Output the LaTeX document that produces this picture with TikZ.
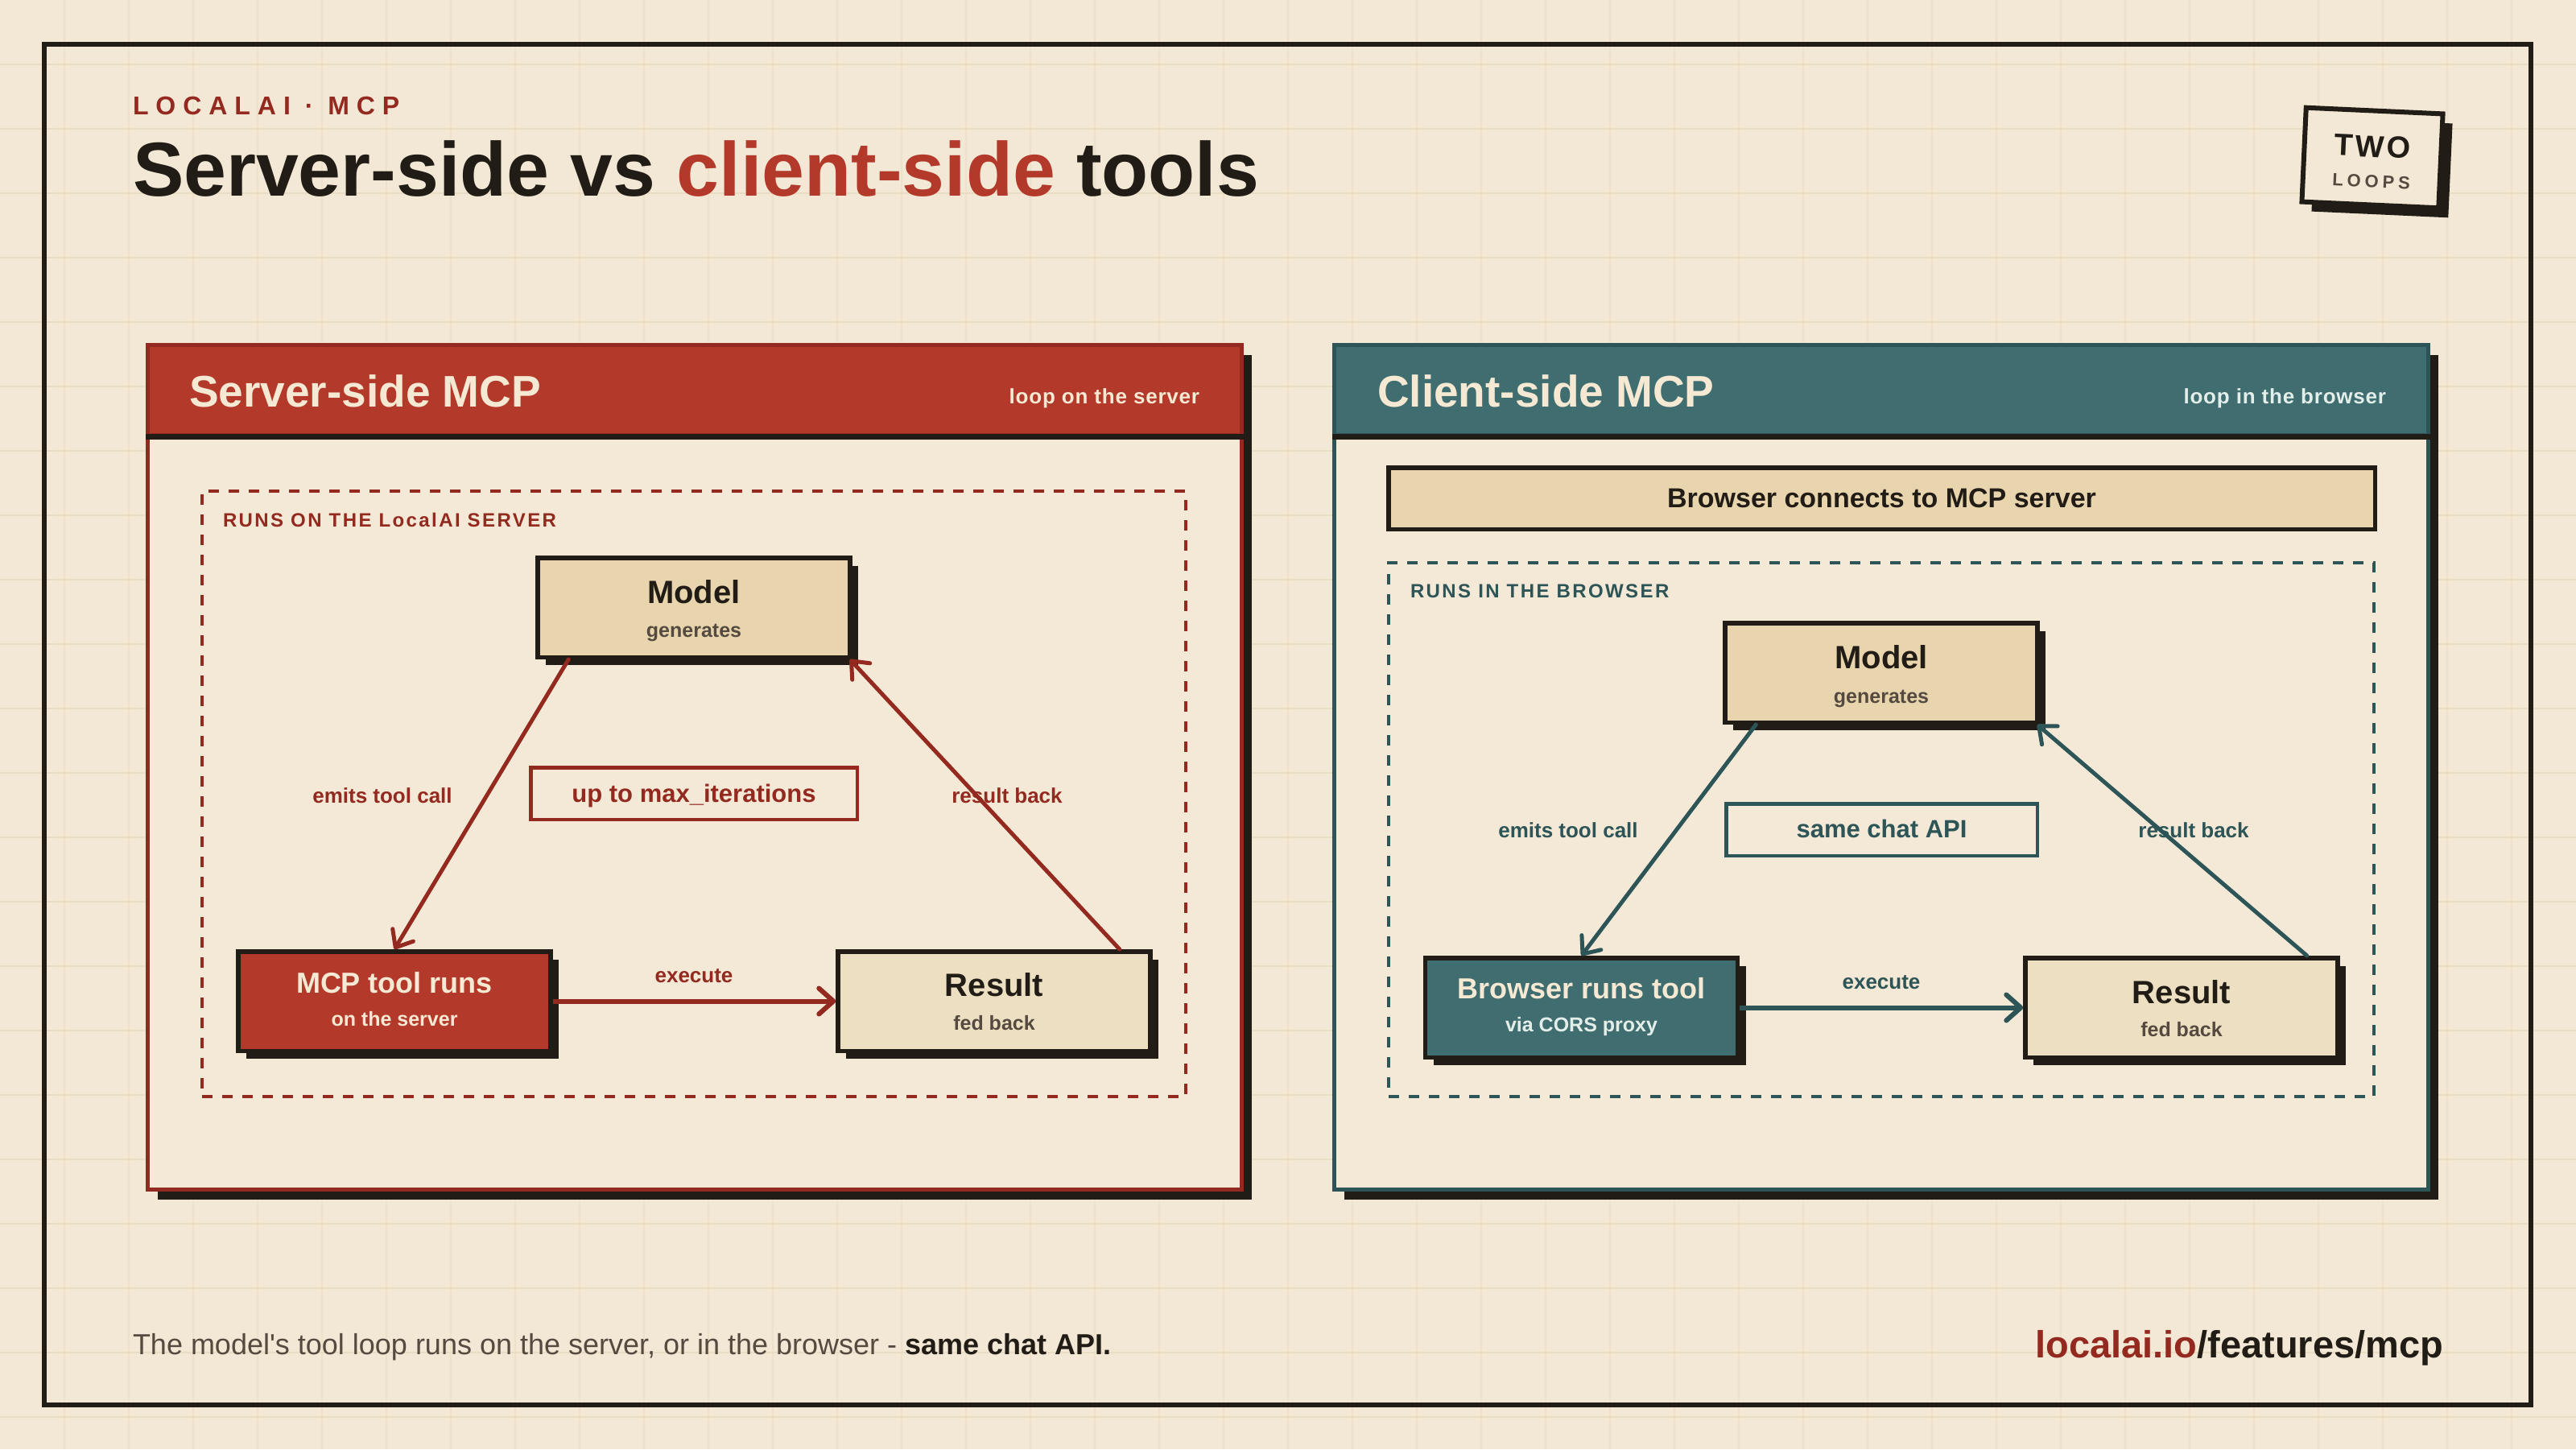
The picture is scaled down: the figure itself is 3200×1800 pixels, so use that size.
\documentclass[tikz,border=0pt]{standalone}
\usepackage{fontspec}
\setmainfont{Liberation Sans}
\usetikzlibrary{arrows.meta,calc,shadows}

\definecolor{bg}{HTML}{F2E8D5}
\definecolor{gridc}{HTML}{EADCC2}
\definecolor{gridv}{HTML}{EDE1CA}
\definecolor{ink}{HTML}{211C15}
\definecolor{redfill}{HTML}{B3392B}
\definecolor{redline}{HTML}{93291F}
\definecolor{tealfill}{HTML}{3F6D70}
\definecolor{tealline}{HTML}{2D5457}
\definecolor{tanfill}{HTML}{E8D5AE}
\definecolor{resfill}{HTML}{EDDFC1}
\definecolor{creamtxt}{HTML}{F6E9D3}
\definecolor{paletxt}{HTML}{E4EEE9}
\definecolor{graytxt}{HTML}{554A3F}
\definecolor{bodyfill}{HTML}{F3E9D6}

\newcommand\fsz[1]{\fontsize{#1}{#1}\selectfont}
\newcommand\lsp[1]{\addfontfeatures{LetterSpace=#1}}

\begin{document}
\begin{tikzpicture}[x=1pt,y=-1pt,
  txt/.style={inner sep=0pt, outer sep=0pt},
  shadowed/.style={drop shadow={shadow xshift=#1, shadow yshift=-#1, opacity=1, fill=ink}},
  nodebox/.style={rectangle, draw=ink, line width=5.5pt, minimum width=388pt,
    minimum height=123.5pt, inner sep=0pt, shadowed=10pt},
  panelbody/.style={rectangle, draw=#1, line width=5pt, fill=bodyfill,
    minimum width=1359pt, minimum height=1049pt, inner sep=0pt, shadowed=12pt},
  panelhead/.style={rectangle, draw=#1, line width=5pt,
    minimum width=1359pt, minimum height=111.5pt, inner sep=0pt},
  region/.style={rectangle, draw=#1, line width=4pt, dash pattern=on 13pt off 12pt, inner sep=0pt},
  midbox/.style={rectangle, draw=#1, line width=4.5pt, fill=bodyfill, minimum height=64.5pt, inner sep=0pt},
  boxtitle/.style={txt, anchor=base, font=\bfseries\fsz{40}, text=ink},
  boxsub/.style={txt, anchor=base, font=\bfseries\fsz{25}, text=graytxt},
  cboxtitle/.style={txt, anchor=base, font=\bfseries\fsz{36}, text=creamtxt},
  cboxsub/.style={txt, anchor=base, font=\bfseries\fsz{25}, text=creamtxt},
  edgelabel/.style={txt, anchor=base, font=\bfseries\fsz{26}, text=#1},
  flow/.style={draw=#1, line width=5pt, line cap=round,
    -{Straight Barb[length=18pt, width=30pt, round]}},
  execflow/.style={draw=#1, line width=6pt,
    -{Straight Barb[length=18pt, width=32pt, round]}},
]
\useasboundingbox (0,0) rectangle (3200,1800);
\fill[bg] (0,0) rectangle (3200,1800);

% grid
\foreach \gx in {80,160,...,3120} {\draw[gridv, line width=2pt] (\gx,0) -- (\gx,1800);}
\foreach \gy in {80,160,...,1760} {\draw[gridc, line width=2.5pt] (0,\gy) -- (3200,\gy);}

% outer frame
\draw[ink, line width=6pt] (55,55) rectangle (3144,1745);

% heading
\node[txt, anchor=base west, font=\bfseries\fsz{32}\lsp{28}, text=redline] (kicker) at (165,142) {LOCALAI · MCP};
\node[txt, anchor=base west, font=\bfseries\fsz{95}, text=ink] (title) at (165,243)
  {Server-side vs \textcolor{redfill}{client-side} tools};

% badge
\begin{scope}[shift={(2947,196)}, rotate=-2.6, transform shape]
  \node[rectangle, draw=ink, line width=6pt, fill=bg, minimum width=170pt, minimum height=117pt,
    inner sep=0pt, shadowed=12pt] (badge) at (0,0) {};
  \node[txt, anchor=base, font=\bfseries\fsz{38}\lsp{8}, text=ink] (badgetop) at (0,-1) {TWO};
  \node[txt, anchor=base, font=\bfseries\fsz{22}\lsp{22}, text=graytxt] (badgebot) at (0,37) {LOOPS};
\end{scope}

% ================= left panel =================
\node[panelbody=redline] (lpanel) at (863,953) {};
\node[panelhead=redline, fill=redfill] (lhead) at (863,484.25) {};
\draw[ink, line width=7pt] (lhead.south west) -- (lhead.south east);
\node[txt, anchor=base west, font=\bfseries\fsz{55}, text=creamtxt] (lheadT) at (235,505) {Server-side MCP};
\node[txt, anchor=base east, font=\bfseries\fsz{26}\lsp{3}, text=creamtxt] (lheadS) at (1490,501) {loop on the server};

\node[region=redline, minimum width=1222pt, minimum height=752pt] (lregion) at (862,986) {};
\node[txt, anchor=base west, font=\bfseries\fsz{24}\lsp{10}, text=redline] (lregionT) at (277,654) {RUNS ON THE LocalAI SERVER};

\node[nodebox, fill=tanfill] (lmodel) at (862,754.5) {};
\node[boxtitle] (lmodelT) at ($(lmodel.center)+(0,-5)$) {Model};
\node[boxsub] (lmodelS) at ($(lmodel.center)+(0,37)$) {generates};

\node[nodebox, fill=redfill] (lmcp) at (490,1243.5) {};
\node[cboxtitle] (lmcpT) at ($(lmcp.center)+(0,-10)$) {MCP tool runs};
\node[cboxsub] (lmcpS) at ($(lmcp.center)+(0,31)$) {on the server};

\node[nodebox, fill=resfill] (lres) at (1235,1243.5) {};
\node[boxtitle] (lresT) at ($(lres.center)+(0,-6)$) {Result};
\node[boxsub] (lresS) at ($(lres.center)+(0,36)$) {fed back};

\node[midbox=redline, minimum width=405.5pt] (lmax) at (862,985.5) {};
\node[txt, anchor=base, font=\bfseries\fsz{31}, text=redline] (lmaxT) at ($(lmax.center)+(0,10.5)$) {up to max\_iterations};

\node[edgelabel=redline] (lemit) at (475,997) {emits tool call};
\node[edgelabel=redline] (lback) at (1251,997) {result back};
\node[edgelabel=redline] (lexec) at (862,1220) {execute};

\draw[flow=redline] ([xshift=41pt]lmodel.south west) -- (lmcp.north);
\draw[flow=redline] ([xshift=-41pt]lres.north east) -- ([xshift=-3pt]lmodel.south east);
\draw[execflow=redline] (lmcp.east) -- (lres.west);

% ================= right panel =================
\node[panelbody=tealline] (rpanel) at (2337,953) {};
\node[panelhead=tealline, fill=tealfill] (rhead) at (2337,484.25) {};
\draw[ink, line width=7pt] (rhead.south west) -- (rhead.south east);
\node[txt, anchor=base west, font=\bfseries\fsz{55}, text=creamtxt] (rheadT) at (1711,505) {Client-side MCP};
\node[txt, anchor=base east, font=\bfseries\fsz{26}\lsp{3}, text=paletxt] (rheadS) at (2964,501) {loop in the browser};

\node[rectangle, draw=ink, line width=5.5pt, fill=tanfill, minimum width=1225.5pt, minimum height=76.5pt, inner sep=0pt] (rconn) at (2337.5,619) {};
\node[txt, anchor=base, font=\bfseries\fsz{34}, text=ink] (rconnT) at ($(rconn.center)+(0,11)$) {Browser connects to MCP server};

\node[region=tealline, minimum width=1224pt, minimum height=663pt] (rregion) at (2337,1030.5) {};
\node[txt, anchor=base west, font=\bfseries\fsz{24}\lsp{10}, text=tealline] (rregionT) at (1752,742) {RUNS IN THE BROWSER};

\node[nodebox, fill=tanfill] (rmodel) at (2337,835.5) {};
\node[boxtitle] (rmodelT) at ($(rmodel.center)+(0,-5)$) {Model};
\node[boxsub] (rmodelS) at ($(rmodel.center)+(0,38)$) {generates};

\node[nodebox, fill=tealfill] (rbrow) at (1964.5,1251.5) {};
\node[cboxtitle] (rbrowT) at ($(rbrow.center)+(0,-11)$) {Browser runs tool};
\node[cboxsub, text=paletxt] (rbrowS) at ($(rbrow.center)+(0,30)$) {via CORS proxy};

\node[nodebox, fill=resfill] (rres) at (2710,1251.5) {};
\node[boxtitle] (rresT) at ($(rres.center)+(0,-5.5)$) {Result};
\node[boxsub] (rresS) at ($(rres.center)+(0,35.5)$) {fed back};

\node[midbox=tealline, minimum width=386.5pt] (rsame) at (2337.5,1030.5) {};
\node[txt, anchor=base, font=\bfseries\fsz{31}, text=tealline] (rsameT) at ($(rsame.center)+(0,9.5)$) {same chat API};

\node[edgelabel=tealline] (remit) at (1948,1040) {emits tool call};
\node[edgelabel=tealline] (rback) at (2725,1040) {result back};
\node[edgelabel=tealline] (rexec) at (2337,1228) {execute};

\draw[flow=tealline] ([xshift=41pt]rmodel.south west) -- (rbrow.north);
\draw[flow=tealline] ([xshift=-41pt]rres.north east) -- ([xshift=-3pt]rmodel.south east);
\draw[execflow=tealline] (rbrow.east) -- (rres.west);

% ================= footer =================
\node[txt, anchor=base west, font=\fsz{36}] (foot) at (165,1682)
  {\textcolor{graytxt}{The model\textquotesingle s tool loop runs on the server, or in the browser - }\textcolor{ink}{\bfseries same chat API.}};
\node[txt, anchor=base east, font=\bfseries\fsz{47}] (url) at (3035,1686)
  {\textcolor{redline}{localai.io}\textcolor{ink}{/features/mcp}};
\end{tikzpicture}
\end{document}
